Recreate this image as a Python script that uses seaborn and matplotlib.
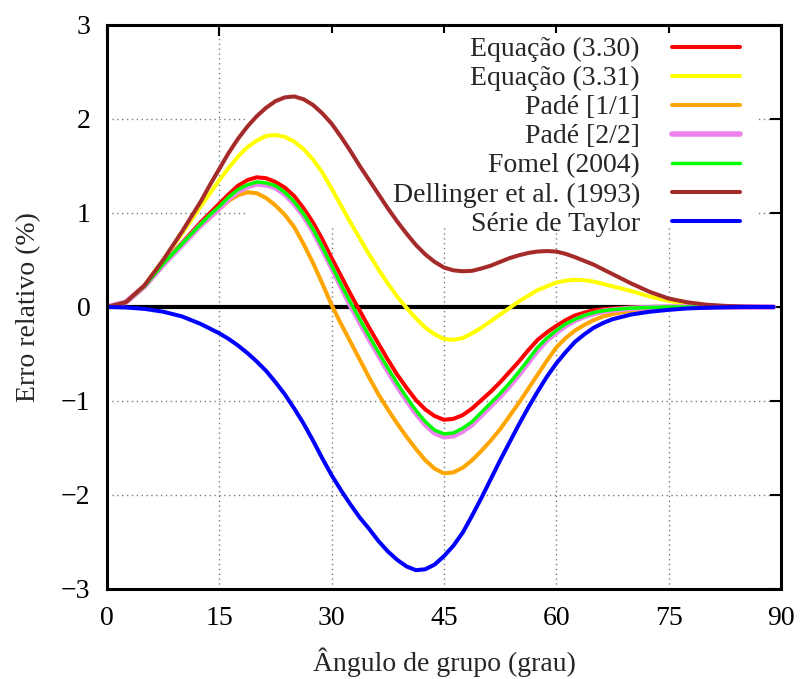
import numpy as np
import pandas as pd
import seaborn as sns
import matplotlib
matplotlib.use("Agg")
import matplotlib.pyplot as plt
from matplotlib.patches import Rectangle

# ---- data ----
angles = [0, 2.5, 5, 7.5, 10, 12.5,
          13.75, 15, 16.25, 17.5, 18.75, 20, 21.25, 22.5, 23.75, 25, 26.25, 27.5,
          28.75, 30, 31.25, 32.5, 33.75, 35, 36.25, 37.5, 38.75, 40, 41.25, 42.5,
          43.75, 45, 46.25, 47.5, 48.75, 50, 51.25, 52.5, 53.75, 55, 56.25, 57.5,
          58.75, 60, 61.25, 62.5, 63.75, 65, 66.25, 67.5,
          70, 72.5, 75, 77.5, 80, 82.5, 85, 87.5, 89]

eq_330 = [0, 0.05, 0.22, 0.46, 0.68, 0.9,
          1.0, 1.1, 1.2, 1.29, 1.35, 1.38, 1.37, 1.33, 1.27, 1.18, 1.05, 0.9,
          0.72, 0.52, 0.33, 0.14, -0.04, -0.22, -0.39, -0.56, -0.72, -0.86, -0.99, -1.09,
          -1.16, -1.2, -1.19, -1.15, -1.08, -0.99, -0.9, -0.8, -0.69, -0.58, -0.46, -0.35,
          -0.27, -0.2, -0.14, -0.09, -0.06, -0.035, -0.022, -0.015,
          -0.005, 0, 0, 0, 0, 0, 0, 0, 0]
eq_331 = [0, 0.05, 0.23, 0.5, 0.78, 1.07,
          1.21, 1.35, 1.48, 1.6, 1.7, 1.77, 1.82, 1.83, 1.81, 1.76, 1.68, 1.57,
          1.43, 1.26, 1.08, 0.9, 0.73, 0.56, 0.4, 0.25, 0.11, -0.01, -0.12, -0.22,
          -0.29, -0.34, -0.35, -0.33, -0.28, -0.22, -0.15, -0.08, -0.01, 0.06, 0.12, 0.18,
          0.22, 0.26, 0.28, 0.29, 0.285, 0.27, 0.245, 0.22,
          0.17, 0.11, 0.065, 0.035, 0.015, 0.005, 0, 0, 0]
pade_11 = [0, 0.05, 0.22, 0.45, 0.66, 0.86,
           0.95, 1.04, 1.13, 1.19, 1.22, 1.21, 1.16, 1.08, 0.98, 0.85, 0.67, 0.47,
           0.25, 0.02, -0.18, -0.37, -0.56, -0.75, -0.93, -1.09, -1.24, -1.38, -1.51, -1.63,
           -1.72, -1.77, -1.76, -1.71, -1.63, -1.53, -1.42, -1.3, -1.16, -1.02, -0.87, -0.72,
           -0.57, -0.43, -0.33, -0.25, -0.19, -0.14, -0.1, -0.075,
           -0.04, -0.018, -0.008, -0.003, 0, 0, 0, 0, 0]
pade_22 = [0, 0.05, 0.22, 0.45, 0.66, 0.87,
           0.96, 1.05, 1.15, 1.23, 1.28, 1.31, 1.3, 1.27, 1.2, 1.1, 0.97, 0.81,
           0.62, 0.42, 0.22, 0.02, -0.16, -0.34, -0.51, -0.68, -0.84, -0.99, -1.13, -1.25,
           -1.34, -1.38, -1.37, -1.32, -1.25, -1.15, -1.05, -0.95, -0.84, -0.72, -0.59, -0.46,
           -0.35, -0.27, -0.2, -0.14, -0.1, -0.07, -0.045, -0.033,
           -0.015, -0.006, 0, 0, 0, 0, 0, 0, 0]
fomel = [0, 0.05, 0.22, 0.46, 0.67, 0.88,
         0.98, 1.07, 1.17, 1.25, 1.3, 1.33, 1.32, 1.29, 1.22, 1.12, 0.99, 0.83,
         0.64, 0.44, 0.24, 0.05, -0.13, -0.31, -0.48, -0.65, -0.81, -0.96, -1.1, -1.22,
         -1.31, -1.35, -1.34, -1.29, -1.22, -1.12, -1.02, -0.92, -0.81, -0.69, -0.56, -0.43,
         -0.33, -0.25, -0.18, -0.13, -0.09, -0.06, -0.04, -0.028,
         -0.012, -0.005, 0, 0, 0, 0, 0, 0, 0]
dellinger = [0, 0.05, 0.23, 0.5, 0.8, 1.12,
             1.3, 1.47, 1.64, 1.79, 1.92, 2.03, 2.12, 2.19, 2.23, 2.24, 2.21, 2.15,
             2.06, 1.95, 1.81, 1.66, 1.5, 1.35, 1.2, 1.05, 0.91, 0.78, 0.66, 0.56,
             0.48, 0.42, 0.39, 0.38, 0.385, 0.41, 0.44, 0.48, 0.52, 0.55, 0.575, 0.59,
             0.595, 0.59, 0.565, 0.53, 0.49, 0.45, 0.4, 0.35,
             0.25, 0.16, 0.09, 0.05, 0.025, 0.012, 0.005, 0.001, 0]
taylor = [0, -0.005, -0.02, -0.05, -0.1, -0.18,
          -0.23, -0.28, -0.34, -0.41, -0.49, -0.58, -0.68, -0.8, -0.93, -1.08, -1.24, -1.42,
          -1.61, -1.79, -1.95, -2.1, -2.24, -2.36, -2.49, -2.6, -2.69, -2.76, -2.8, -2.79,
          -2.74, -2.65, -2.54, -2.4, -2.22, -2.03, -1.83, -1.63, -1.44, -1.25, -1.07, -0.9,
          -0.74, -0.6, -0.48, -0.37, -0.29, -0.22, -0.17, -0.13,
          -0.08, -0.05, -0.03, -0.015, -0.008, -0.003, 0, 0, 0]

series_names = ["Equação (3.30)", "Equação (3.31)", "Padé [1/1]", "Padé [2/2]",
                "Fomel (2004)", "Dellinger et al. (1993)", "Série de Taylor"]
series_values = [eq_330, eq_331, pade_11, pade_22, fomel, dellinger, taylor]
series_colors = ["#ff0000", "#ffff00", "#ffa500", "#ee82ee", "#00ff00", "#a52a2a", "#0000ff"]
series_widths = [2.9, 2.9, 2.9, 4.0, 2.5, 2.9, 2.9]

x_ticks = [0, 15, 30, 45, 60, 75, 90]
y_ticks = [-3, -2, -1, 0, 1, 2, 3]

# ---- style ----
sns.set_theme(style="white")
plt.rcParams["font.family"] = ["Liberation Serif", "DejaVu Serif"]
plt.rcParams["axes.unicode_minus"] = True

fig = plt.figure(figsize=(8.0, 6.79), dpi=100)
ax = fig.add_axes([107 / 800, 1 - 589 / 679, 674 / 800, 564 / 679])

ax.set_axisbelow(True)
ax.grid(True, linestyle=(0, (1, 2.5)), color="#7a7a7a", linewidth=1.0)

# white key box that hides the grid behind the legend (as in gnuplot)
ax.add_patch(Rectangle((0.209, 0.640), 0.755, 0.346, transform=ax.transAxes,
                       facecolor="white", edgecolor="none", zorder=1))

# zero axis
ax.hlines(0, angles[0], angles[-1], colors="black", linewidth=3.0, zorder=1.8)

df = pd.DataFrame({"angle": angles})
for name, vals, col, lw in zip(series_names, series_values, series_colors, series_widths):
    df[name] = vals
    sns.lineplot(data=df, x="angle", y=name, color=col, linewidth=lw, label=name,
                 ax=ax, zorder=2)

ax.set_xlim(0, 90)
ax.set_ylim(-3, 3)
ax.set_xticks(x_ticks)
ax.set_yticks(y_ticks)
ax.tick_params(direction="in", top=True, right=True, length=8, width=1.5,
               labelsize=20, pad=12, colors="black")
for s in ax.spines.values():
    s.set_linewidth(2.2)
    s.set_color("black")

ax.set_xlabel("Ângulo de grupo (grau)", fontsize=20, labelpad=12)
ax.set_ylabel("Erro relativo (%)", fontsize=20, labelpad=14)

leg = ax.legend(loc="upper right", bbox_to_anchor=(0.939, 0.979), frameon=False,
                fontsize=20, markerfirst=False, handlelength=2.45, handletextpad=1.15,
                labelspacing=0.13, borderaxespad=0, borderpad=0)

fig.savefig("out.png", dpi=100)
